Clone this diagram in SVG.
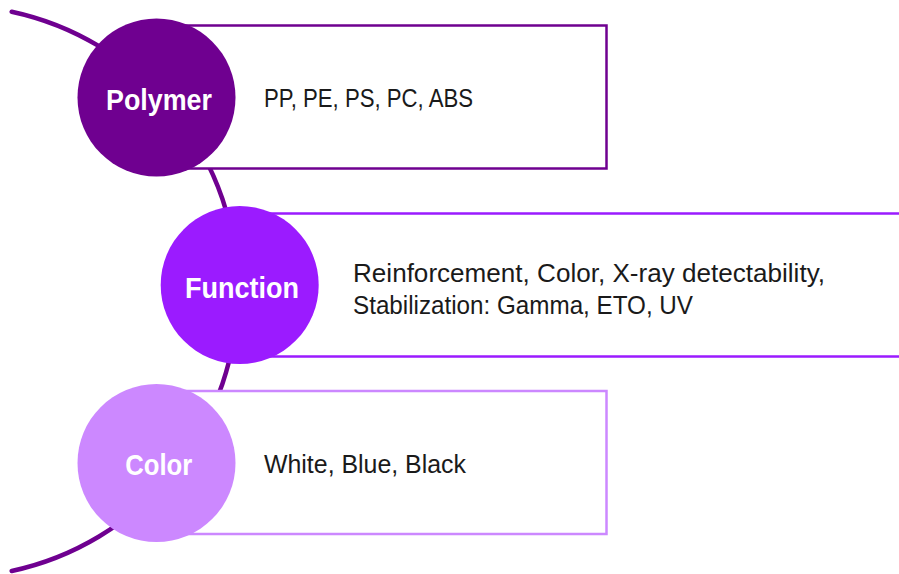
<svg xmlns="http://www.w3.org/2000/svg" width="899" height="574" viewBox="0 0 899 574">
<style>
.box{fill:#ffffff;stroke-width:2.5}
.lbl{font-family:"Liberation Sans",Arial,sans-serif;font-weight:bold;font-size:30px;fill:#ffffff;text-anchor:middle}
.txt{font-family:"Liberation Sans",Arial,sans-serif;font-size:25px;fill:#1a1a1a}
</style>
<rect width="899" height="574" fill="#ffffff"/>
<g id="connectors">
<path d="M 11.7 11.7 A 286 286 0 0 1 11.7 571" fill="none" stroke="#6f0090" stroke-width="4.5" stroke-linecap="round"/>
</g>
<g id="polymer">
<rect class="box" x="157" y="25.5" width="449.5" height="143" stroke="#6f0090"/>
<circle cx="156.5" cy="97.5" r="79" fill="#6f0090"/>
<text class="lbl" x="159" y="110" textLength="106" lengthAdjust="spacingAndGlyphs">Polymer</text>
<text class="txt" x="264" y="107" textLength="209" lengthAdjust="spacingAndGlyphs">PP, PE, PS, PC, ABS</text>
</g>
<g id="function">
<rect class="box" x="240" y="213.5" width="670" height="143" stroke="#9b1bff"/>
<circle cx="239.7" cy="285" r="79" fill="#9b1bff"/>
<text class="lbl" x="242" y="298" textLength="114" lengthAdjust="spacingAndGlyphs">Function</text>
<text class="txt" x="353" y="282" textLength="472" lengthAdjust="spacingAndGlyphs">Reinforcement, Color, X-ray detectability,</text>
<text class="txt" x="353" y="314" textLength="340" lengthAdjust="spacingAndGlyphs">Stabilization: Gamma, ETO, UV</text>
</g>
<g id="color">
<rect class="box" x="157" y="391" width="449.5" height="143" stroke="#cc88ff"/>
<circle cx="156.5" cy="463" r="79" fill="#cc88ff"/>
<text class="lbl" x="158.7" y="475" textLength="67" lengthAdjust="spacingAndGlyphs">Color</text>
<text class="txt" x="264" y="473" textLength="202" lengthAdjust="spacingAndGlyphs">White, Blue, Black</text>
</g>
</svg>
